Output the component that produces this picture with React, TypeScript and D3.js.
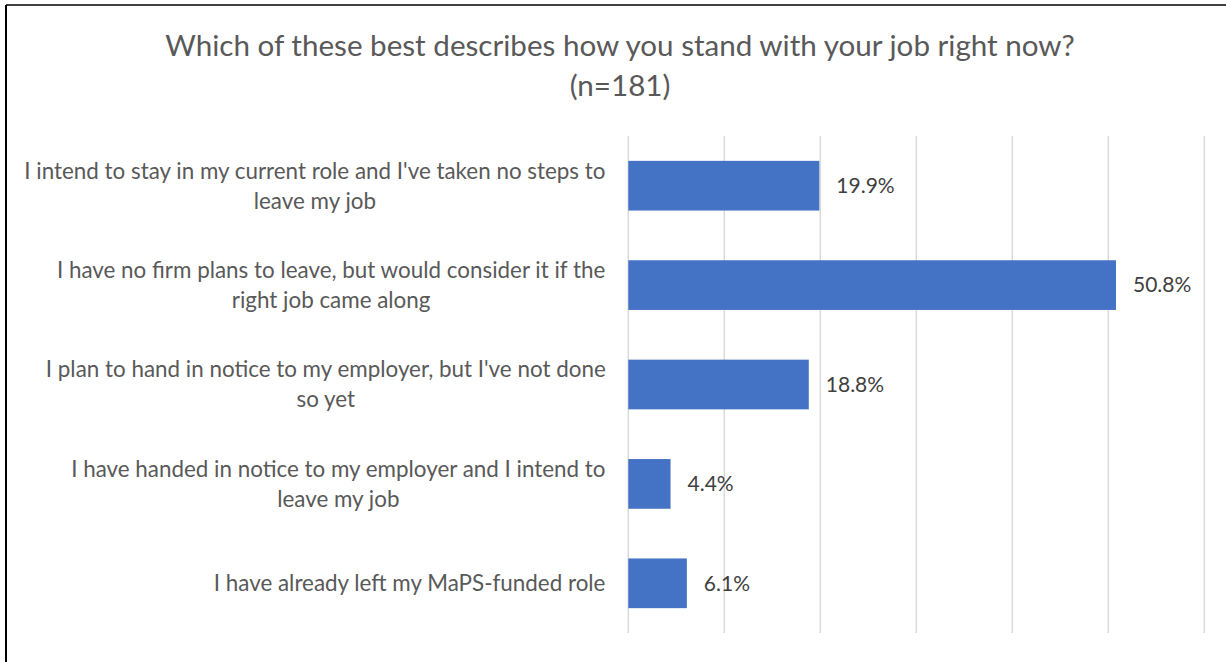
import React from "react";
import * as d3 from "d3";

const titleLines = ["Which of these best describes how you stand with your job right now?", "(n=181)"];
const categories = [
  "I intend to stay in my current role and I've taken no steps to leave my job",
  "I have no firm plans to leave, but would consider it if the right job came along",
  "I plan to hand in notice to my employer, but I've not done so yet",
  "I have handed in notice to my employer and I intend to leave my job",
  "I have already left my MaPS-funded role",
];
const categoryLines = [
  ["I intend to stay in my current role and I've taken no steps to", "leave my job"],
  ["I have no firm plans to leave, but would consider it if the", "right job came along"],
  ["I plan to hand in notice to my employer, but I've not done", "so yet"],
  ["I have handed in notice to my employer and I intend to", "leave my job"],
  ["I have already left my MaPS-funded role"],
];
const values = [0.199, 0.508, 0.188, 0.044, 0.061];
const ticks = [0, 0.1, 0.2, 0.3, 0.4, 0.5, 0.6];

const W = 1226;
const H = 662;
const FONT = "Lato, 'Open Sans', sans-serif";
const LABEL_SIZE = 22.4;

function textWidth(s: string, size: number): number {
  if (typeof document === "undefined") return s.length * size * 0.45;
  const c = document.createElement("canvas").getContext("2d");
  if (!c) return s.length * size * 0.45;
  c.font = `${size}px Lato`;
  return c.measureText(s).width;
}

export default function App() {
  const x = d3.scaleLinear().domain([0, 0.6]).range([628.3, 1204.3]);
  const y = d3.scaleBand<string>().domain(categories).range([136, 633]).paddingInner(0.5).paddingOuter(0.25);
  const fmt = d3.format(".1%");
  const labelRight = 606;
  return (
    <svg width={W} height={H} style={{ position: "absolute", left: 0, top: 0, background: "#fff" }} fontFamily={FONT}>
      <rect x={0} y={0} width={W} height={H} fill="#fff" />
      <line x1={6} x2={W} y1={5} y2={5} stroke="#000" strokeWidth={1.5} />
      <line x1={6} x2={6} y1={5} y2={H} stroke="#000" strokeWidth={2} />
      <text x={620} y={56} textAnchor="middle" fontSize={29.6} fill="#595959">{titleLines[0]}</text>
      <text x={620} y={96} textAnchor="middle" fontSize={29.6} fill="#595959">{titleLines[1]}</text>
      {ticks.map((t) => (
        <line key={t} x1={x(t)} x2={x(t)} y1={136} y2={633} stroke="#D9D9D9" strokeWidth={1.5} />
      ))}
      {categories.map((c, i) => {
        const yc = (y(c) as number) + y.bandwidth() / 2;
        const lines = categoryLines[i];
        const blockW = Math.max(...lines.map((l) => textWidth(l, LABEL_SIZE)));
        const cx = labelRight - blockW / 2;
        return (
          <g key={c}>
            <rect x={x(0)} y={y(c)} width={x(values[i]) - x(0)} height={y.bandwidth()} fill="#4472C4" />
            <text x={x(values[i]) + 17} y={yc} dy="0.35em" fontSize={21} fill="#404040">{fmt(values[i])}</text>
            {lines.map((l, j) => (
              <text key={j} x={cx} y={yc + (j - (lines.length - 1) / 2) * 30} dy="0.35em" textAnchor="middle" fontSize={LABEL_SIZE} fill="#595959">{l}</text>
            ))}
          </g>
        );
      })}
    </svg>
  );
}
